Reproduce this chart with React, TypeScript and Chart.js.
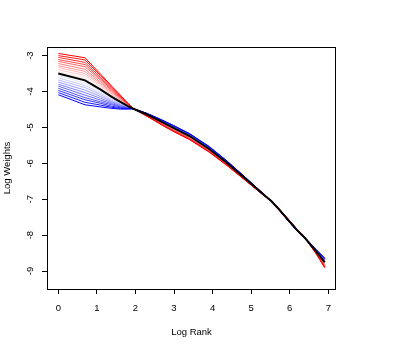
import React, { useEffect, useRef } from "react";
import { Chart, registerables } from "chart.js";

Chart.register(...registerables);

// x positions: log of rank (ranks 1,2,3,4,5,6,7,10,15,20,30,50,80,120,200,250,300,400,500,600,800,1000)
const logRank = [0, 0.693, 1.099, 1.386, 1.609, 1.792, 1.946, 2.303, 2.708, 2.996, 3.401, 3.912, 4.382, 4.787, 5.298, 5.521, 5.704, 5.991, 6.215, 6.397, 6.685, 6.908];

const xTickValues = [0, 1, 2, 3, 4, 5, 6, 7];
const yTickValues = [-9, -8, -7, -6, -5, -4, -3];

// central (black) curve
const center = [-3.50, -3.69, -3.95, -4.15, -4.29, -4.40, -4.48, -4.64, -4.86, -5.02, -5.24, -5.60, -6.00, -6.37, -6.85, -7.05, -7.26, -7.62, -7.89, -8.08, -8.45, -8.76];

// red family, innermost (pale) to outermost (saturated)
const red01 = [-3.44, -3.63, -3.91, -4.12, -4.27, -4.39, -4.48, -4.64, -4.87, -5.03, -5.25, -5.61, -6.01, -6.37, -6.85, -7.05, -7.26, -7.62, -7.89, -8.08, -8.46, -8.78];
const red02 = [-3.39, -3.56, -3.86, -4.09, -4.25, -4.38, -4.48, -4.65, -4.88, -5.04, -5.26, -5.62, -6.01, -6.38, -6.85, -7.05, -7.26, -7.61, -7.89, -8.08, -8.46, -8.79];
const red03 = [-3.33, -3.50, -3.82, -4.06, -4.23, -4.37, -4.48, -4.66, -4.89, -5.05, -5.27, -5.63, -6.02, -6.39, -6.86, -7.05, -7.25, -7.61, -7.88, -8.08, -8.47, -8.81];
const red04 = [-3.28, -3.44, -3.78, -4.03, -4.21, -4.36, -4.48, -4.66, -4.90, -5.06, -5.28, -5.64, -6.03, -6.39, -6.86, -7.05, -7.25, -7.61, -7.88, -8.08, -8.48, -8.82];
const red05 = [-3.22, -3.38, -3.74, -4.00, -4.20, -4.36, -4.48, -4.67, -4.90, -5.07, -5.29, -5.65, -6.04, -6.40, -6.86, -7.05, -7.25, -7.61, -7.88, -8.08, -8.49, -8.84];
const red06 = [-3.16, -3.31, -3.69, -3.97, -4.18, -4.35, -4.48, -4.67, -4.91, -5.08, -5.30, -5.65, -6.04, -6.40, -6.86, -7.05, -7.25, -7.60, -7.88, -8.08, -8.49, -8.85];
const red07 = [-3.11, -3.25, -3.65, -3.94, -4.16, -4.34, -4.48, -4.68, -4.92, -5.09, -5.31, -5.66, -6.05, -6.41, -6.86, -7.05, -7.25, -7.60, -7.88, -8.08, -8.50, -8.87];
const red08 = [-3.05, -3.19, -3.61, -3.91, -4.14, -4.33, -4.48, -4.68, -4.93, -5.10, -5.32, -5.67, -6.06, -6.41, -6.87, -7.05, -7.24, -7.60, -7.87, -8.08, -8.51, -8.88];
const red09 = [-3.00, -3.12, -3.56, -3.88, -4.12, -4.32, -4.48, -4.69, -4.94, -5.11, -5.33, -5.68, -6.06, -6.42, -6.87, -7.05, -7.24, -7.59, -7.87, -8.08, -8.51, -8.90];
const red10 = [-2.94, -3.06, -3.52, -3.85, -4.10, -4.31, -4.48, -4.69, -4.95, -5.12, -5.34, -5.69, -6.07, -6.42, -6.87, -7.05, -7.24, -7.59, -7.87, -8.08, -8.52, -8.91];

// blue family, innermost (pale) to outermost (saturated)
const blue01 = [-3.56, -3.76, -4.00, -4.18, -4.31, -4.41, -4.48, -4.64, -4.85, -5.01, -5.23, -5.59, -5.99, -6.37, -6.85, -7.05, -7.26, -7.62, -7.89, -8.08, -8.45, -8.75];
const blue02 = [-3.62, -3.83, -4.05, -4.21, -4.33, -4.42, -4.48, -4.63, -4.85, -5.01, -5.23, -5.59, -5.99, -6.36, -6.85, -7.05, -7.26, -7.62, -7.89, -8.08, -8.44, -8.74];
const blue03 = [-3.68, -3.89, -4.09, -4.25, -4.35, -4.43, -4.48, -4.63, -4.84, -5.00, -5.22, -5.58, -5.98, -6.36, -6.84, -7.05, -7.26, -7.63, -7.90, -8.08, -8.44, -8.72];
const blue04 = [-3.74, -3.96, -4.14, -4.28, -4.37, -4.44, -4.48, -4.63, -4.84, -4.99, -5.21, -5.57, -5.98, -6.35, -6.84, -7.05, -7.26, -7.63, -7.90, -8.08, -8.43, -8.71];
const blue05 = [-3.80, -4.03, -4.19, -4.31, -4.39, -4.45, -4.48, -4.63, -4.83, -4.99, -5.21, -5.57, -5.97, -6.35, -6.84, -7.05, -7.27, -7.63, -7.90, -8.08, -8.43, -8.70];
const blue06 = [-3.85, -4.10, -4.24, -4.34, -4.41, -4.45, -4.48, -4.62, -4.82, -4.98, -5.20, -5.56, -5.96, -6.35, -6.84, -7.05, -7.27, -7.63, -7.90, -8.08, -8.42, -8.69];
const blue07 = [-3.91, -4.17, -4.29, -4.37, -4.43, -4.46, -4.48, -4.62, -4.82, -4.97, -5.19, -5.55, -5.96, -6.34, -6.84, -7.05, -7.27, -7.63, -7.90, -8.08, -8.42, -8.68];
const blue08 = [-3.97, -4.23, -4.33, -4.41, -4.45, -4.47, -4.48, -4.62, -4.81, -4.96, -5.18, -5.54, -5.95, -6.34, -6.83, -7.05, -7.27, -7.64, -7.91, -8.08, -8.41, -8.66];
const blue09 = [-4.03, -4.30, -4.38, -4.44, -4.47, -4.48, -4.48, -4.61, -4.81, -4.96, -5.18, -5.54, -5.95, -6.33, -6.83, -7.05, -7.27, -7.64, -7.91, -8.08, -8.41, -8.65];
const blue10 = [-4.09, -4.37, -4.43, -4.47, -4.49, -4.49, -4.48, -4.61, -4.80, -4.95, -5.17, -5.53, -5.94, -6.33, -6.83, -7.05, -7.27, -7.64, -7.91, -8.08, -8.40, -8.64];

const redFamily = [red01, red02, red03, red04, red05, red06, red07, red08, red09, red10];
const blueFamily = [blue01, blue02, blue03, blue04, blue05, blue06, blue07, blue08, blue09, blue10];

const FONT = "'Liberation Sans', Arial, Helvetica, sans-serif";

function shade(k: number, toRed: boolean): string {
  const t = k / 10;
  const v = Math.round(255 * (1 - t));
  return toRed ? `rgb(255,${v},${v})` : `rgb(${v},${v},255)`;
}

const boxPlugin = {
  id: "rbox",
  afterDraw(chart: any) {
    const { ctx, chartArea } = chart;
    const { left, top, right, bottom } = chartArea;
    ctx.save();
    ctx.strokeStyle = "#000";
    ctx.lineWidth = 1;
    ctx.strokeRect(left + 0.5, top + 0.5, right - left - 1, bottom - top);
    ctx.restore();
  },
};

export default function App() {
  const canvasRef = useRef<HTMLCanvasElement | null>(null);

  useEffect(() => {
    document.body.style.margin = "0";
    const canvas = canvasRef.current;
    if (!canvas) return;

    const toPoints = (arr: number[]) => logRank.map((x, i) => ({ x, y: arr[i] }));

    const datasets: any[] = [];
    datasets.push({
      label: "center",
      data: toPoints(center),
      borderColor: "#000",
      borderWidth: 2,
      pointRadius: 0,
      tension: 0,
    });
    for (let k = 10; k >= 1; k--) {
      datasets.push({
        label: "red" + k,
        data: toPoints(redFamily[k - 1]),
        borderColor: shade(k, true),
        borderWidth: 1,
        pointRadius: 0,
        tension: 0,
      });
      datasets.push({
        label: "blue" + k,
        data: toPoints(blueFamily[k - 1]),
        borderColor: shade(k, false),
        borderWidth: 1,
        pointRadius: 0,
        tension: 0,
      });
    }

    const tickFont = { family: FONT, size: 9.5 };

    const chart = new Chart(canvas, {
      type: "line",
      data: { datasets },
      options: {
        animation: false,
        responsive: false,
        maintainAspectRatio: false,
        events: [],
        layout: { padding: { left: 0, top: 47, right: 71, bottom: 0 } },
        plugins: {
          legend: { display: false },
          tooltip: { enabled: false },
        },
        scales: {
          x: {
            type: "linear",
            min: -0.293,
            max: 7.2,
            afterFit: (s: any) => {
              s.height = 60;
            },
            afterBuildTicks: (s: any) => {
              s.ticks = xTickValues.map((v) => ({ value: v }));
            },
            border: { display: false },
            grid: {
              drawOnChartArea: false,
              drawTicks: true,
              tickLength: 5,
              color: "#000",
              lineWidth: 1,
            },
            ticks: {
              font: tickFont,
              color: "#000",
              padding: 9,
              maxRotation: 0,
              autoSkip: false,
            },
            title: {
              display: true,
              text: "Log Rank",
              font: tickFont,
              color: "#000",
              padding: { top: 0, bottom: 11 },
            },
          },
          y: {
            type: "linear",
            min: -9.501,
            max: -2.76,
            afterFit: (s: any) => {
              s.width = 47;
            },
            afterBuildTicks: (s: any) => {
              s.ticks = yTickValues.map((v) => ({ value: v }));
            },
            border: { display: false },
            grid: {
              drawOnChartArea: false,
              drawTicks: true,
              tickLength: 5,
              color: "#000",
              lineWidth: 1,
            },
            ticks: {
              font: tickFont,
              color: "#000",
              minRotation: 90,
              maxRotation: 90,
              crossAlign: "center",
              padding: 7,
              autoSkip: false,
            },
            title: {
              display: true,
              text: "Log Weights",
              font: tickFont,
              color: "#000",
              padding: { top: 2, bottom: 0 },
            },
          },
        },
      } as any,
      plugins: [boxPlugin],
    });

    return () => {
      chart.destroy();
    };
  }, []);

  return (
    <div style={{ width: 407, height: 349, background: "#fff" }}>
      <canvas ref={canvasRef} width={407} height={349} style={{ display: "block" }} />
    </div>
  );
}
